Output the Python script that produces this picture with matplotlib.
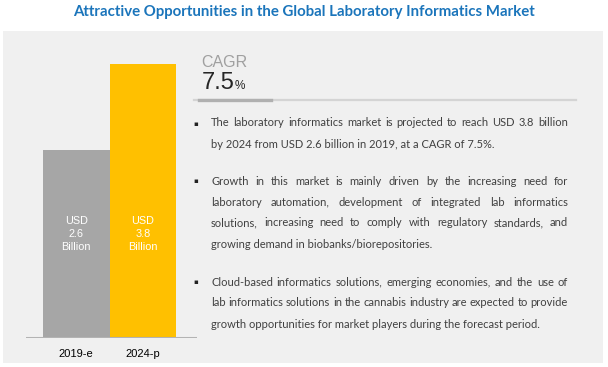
import matplotlib
matplotlib.use("Agg")
import matplotlib.pyplot as plt
from matplotlib.patches import Rectangle
from matplotlib.lines import Line2D

# data
years = ["2019-e", "2024-p"]
values = [2.6, 3.8]
bar_colors = ["#a6a6a6", "#ffc000"]
value_labels = ["USD\n2.6\nBillion", "USD\n3.8\nBillion"]
cagr = "7.5"
title = "Attractive Opportunities in the Global Laboratory Informatics Market"
bullets = [
    ["The laboratory informatics market is projected to reach USD 3.8 billion",
     "by 2024 from USD 2.6 billion in 2019, at a CAGR of 7.5%."],
    ["Growth in this market is mainly driven by the increasing need for",
     "laboratory automation, development of integrated lab informatics",
     "solutions, increasing need to comply with regulatory standards, and",
     "growing demand in biobanks/biorepositories."],
    ["Cloud-based informatics solutions, emerging economies, and the use of",
     "lab informatics solutions in the cannabis industry are expected to provide",
     "growth opportunities for market players during the forecast period."],
]

W, H = 608, 367
fig = plt.figure(figsize=(W / 100, H / 100), dpi=100)
fig.patch.set_facecolor("white")


def fx(px):
    return px / W


def fy(py):
    return 1 - py / H


# grey panel
fig.patches.append(Rectangle((fx(3), fy(363)), fx(600), 332 / H, transform=fig.transFigure,
                             facecolor="#f0f0f0", edgecolor="none", zorder=-5))

fig.text(0.5, fy(12), title, ha="center", va="center", fontsize=10.8, fontweight="bold",
         color="#1b75bb", family="Lato")

# bars
ax = fig.add_axes([fx(26), fy(338), fx(171), 307 / H])
ax.set_facecolor("none")
ax.set_zorder(2)
x = range(len(years))
ax.bar(x, values, width=1.0, color=bar_colors, zorder=2)
ax.set_xlim(-0.754, 1.81)
ax.set_ylim(0, 4.25)
ax.axhline(0, color="#b3b3b3", lw=2.2, zorder=3)
for i, lab in enumerate(value_labels):
    ax.text(i, 1.44, lab, ha="center", va="center", color="white", fontsize=7.8,
            family="Liberation Sans", linespacing=1.4)
for s in ax.spines.values():
    s.set_visible(False)
ax.set_xticks(list(x))
ax.set_xticklabels(years, fontsize=8, family="Liberation Sans", color="#000000")
ax.tick_params(axis="x", length=0, pad=8)
ax.set_yticks([])

# CAGR block
fig.text(fx(201), fy(67), "CAGR", ha="left", va="baseline", fontsize=11.5,
         color="#a0a0a0", family="Liberation Sans")
t = fig.text(fx(202), fy(89), cagr, ha="left", va="baseline", fontsize=17,
             color="#262626", family="Liberation Sans")
fig.canvas.draw()
r = fig.canvas.get_renderer()
bb = t.get_window_extent(r)
fig.text(bb.x1 / W, fy(89), "%", ha="left", va="baseline", fontsize=8.5,
         color="#262626", family="Liberation Sans")
fig.lines.append(Line2D([fx(194), fx(576)], [fy(100), fy(100)], transform=fig.transFigure,
                        color="#d4d4d4", lw=1.6))
fig.lines.append(Line2D([fx(199), fx(271)], [fy(100), fy(100)], transform=fig.transFigure,
                        color="#b0b0b0", lw=2.4))

# bullet paragraphs, justified
line_y = [[123, 144], [181, 202, 223, 245], [282, 303, 324]]
x0, x1 = 211, 568
tfont = dict(fontsize=8.0, color="#404040", family="Lato")
for para, ys in zip(bullets, line_y):
    fig.text(fx(196), fy(ys[0] + 0.5), "\u25aa", ha="center", va="center", fontsize=5,
             color="#222222", family="DejaVu Sans")
    for k, (line, yy) in enumerate(zip(para, ys)):
        words = line.split(" ")
        last = k == len(para) - 1
        if last:
            fig.text(fx(x0), fy(yy + 3.5), line, ha="left", va="baseline", **tfont)
            continue
        objs = [fig.text(0, 0, w, ha="left", va="baseline", **tfont) for w in words]
        widths = [o.get_window_extent(r).width for o in objs]
        gap = (x1 - x0 - sum(widths)) / (len(words) - 1)
        pos = x0
        for o, wd in zip(objs, widths):
            o.set_position((fx(pos), fy(yy + 3.5)))
            pos += wd + gap

fig.savefig("out.png", dpi=100)
